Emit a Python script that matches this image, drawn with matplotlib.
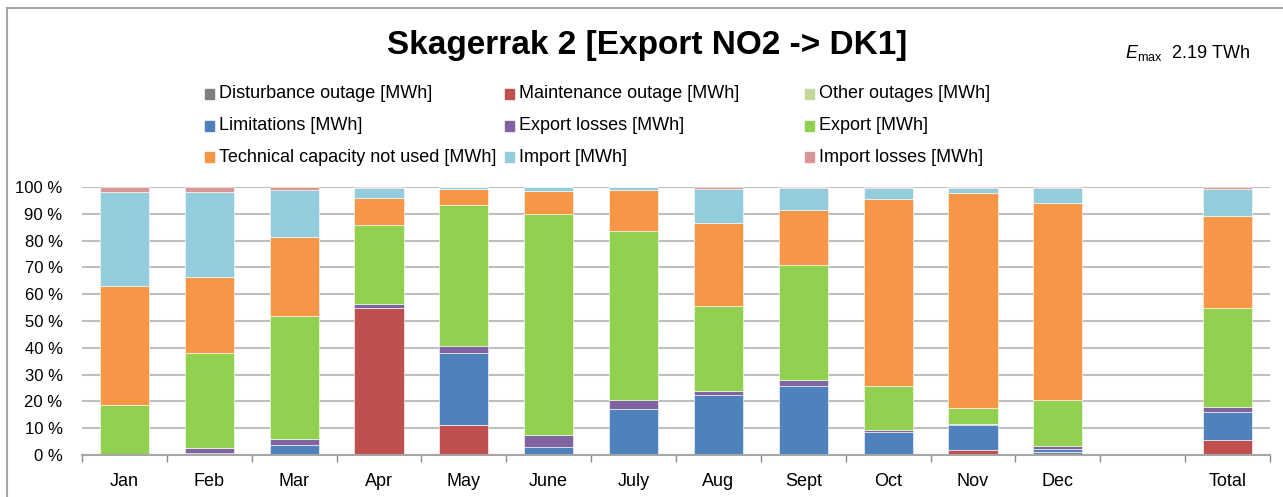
import numpy as np
import matplotlib.pyplot as plt
from matplotlib.patches import Rectangle
from matplotlib.lines import Line2D

plt.rcParams['font.family'] = ['Liberation Sans', 'DejaVu Sans']
plt.rcParams['mathtext.fontset'] = 'custom'
plt.rcParams['mathtext.rm'] = 'Liberation Sans'
plt.rcParams['mathtext.it'] = 'Liberation Sans:italic'

# Data (share of Emax, %)
categories = ['Jan', 'Feb', 'Mar', 'Apr', 'May', 'June', 'July', 'Aug', 'Sept',
              'Oct', 'Nov', 'Dec', '', 'Total']
disturbance = [0, 0, 0, 0, 0, 0, 0, 0, 0, 0, 0, 1.0, 0, 0]
maintenance = [0, 0, 0, 55.0, 11.1, 0, 0, 0, 0, 0, 1.75, 0, 0, 5.6]
other_outages = [0, 0, 0, 0, 0, 0, 0, 0, 0, 0, 0, 0, 0, 0]
limitations = [0, 0.8, 3.6, 0, 27.0, 3.0, 17.1, 22.5, 25.9, 8.5, 9.35, 1.1, 0, 10.4]
export_losses = [0.5, 1.7, 2.5, 1.4, 2.65, 4.6, 3.3, 1.5, 2.1, 1.0, 0.4, 1.15, 0, 1.75]
export = [18.1, 35.6, 45.9, 29.5, 52.65, 82.3, 63.2, 31.75, 42.75, 16.1, 5.9, 17.25, 0, 37.15]
tech_not_used = [44.4, 28.4, 29.25, 9.85, 5.85, 8.6, 15.3, 30.75, 20.65, 70.0, 80.2, 73.6, 0, 34.1]
import_ = [35.1, 31.6, 17.75, 3.75, 0.75, 1.5, 1.1, 12.9, 8.2, 3.9, 2.0, 5.5, 0, 10.25]
import_losses = [1.9, 1.9, 1.0, 0.5, 0, 0, 0, 0.6, 0.4, 0.5, 0.4, 0.4, 0, 0.75]

series = [
    ('Disturbance outage [MWh]', disturbance, '#7f7f7f'),
    ('Maintenance outage [MWh]', maintenance, '#c0504d'),
    ('Other outages [MWh]', other_outages, '#c3d69b'),
    ('Limitations [MWh]', limitations, '#4f81bd'),
    ('Export losses [MWh]', export_losses, '#8064a2'),
    ('Export [MWh]', export, '#92d050'),
    ('Technical capacity not used [MWh]', tech_not_used, '#f79646'),
    ('Import [MWh]', import_, '#93cddd'),
    ('Import losses [MWh]', import_losses, '#da9694'),
]

fig = plt.figure(figsize=(12.83, 4.97), dpi=100)
ax = fig.add_axes([82 / 1283, 42 / 497, 1188 / 1283, 268 / 497])

x = np.arange(len(categories))
bottom = np.zeros(len(categories))
for name, vals, col in series:
    vals = np.array(vals, dtype=float)
    ax.bar(x, vals, width=0.58, bottom=bottom, color=col,
           edgecolor='white', linewidth=0.4, zorder=3)
    bottom += vals

ax.set_xlim(-0.5, len(categories) - 0.5)
ax.set_ylim(0, 100)
ax.set_yticks(np.arange(0, 101, 10))
ax.set_yticklabels([f'{v} %' for v in range(0, 101, 10)], fontsize=12)
ax.set_xticks(x)
ax.set_xticklabels(categories, fontsize=13)
ax.set_xticks(np.arange(-0.5, len(categories)), minor=True)
ax.tick_params(axis='x', which='major', length=0, pad=13)
ax.tick_params(axis='x', which='minor', length=5, color='#8c8c8c', width=1)
ax.tick_params(axis='y', length=0, pad=14)
ax.grid(axis='y', color='#bfbfbf', linewidth=1.5, zorder=0)
for s in ['top', 'right', 'left']:
    ax.spines[s].set_visible(False)
ax.spines['bottom'].set_color('#a6a6a6')
ax.spines['bottom'].set_linewidth(1.5)
ax.spines['bottom'].set_zorder(4)

# Title and Emax
fig.text(647 / 1283, 1 - 46 / 497, 'Skagerrak 2 [Export NO2 -> DK1]',
         ha='center', va='center', fontsize=24, fontweight='bold')
fig.text(1250 / 1283, 1 - 53 / 497, r'$\mathit{E}_{\mathrm{max}}$  2.19 TWh',
         ha='right', va='center', fontsize=13)

# Legend, three columns like Excel
col_x = [205, 505, 805]
row_y = [94, 126, 157]
for i, (name, vals, col) in enumerate(series):
    cx = col_x[i % 3]
    cy = row_y[i // 3]
    fig.patches.append(Rectangle((cx / 1283, 1 - (cy + 5) / 497), 9 / 1283, 10 / 497,
                                 transform=fig.transFigure, color=col))
    fig.text((cx + 14) / 1283, 1 - cy / 497, name, ha='left', va='center', fontsize=13)

# Chart frame (top/left visible)
fig.lines.append(Line2D([7 / 1283, 7 / 1283], [0, 1 - 8 / 497], transform=fig.transFigure,
                        color='#a6a6a6', linewidth=1.5))
fig.lines.append(Line2D([7 / 1283, 1], [1 - 8 / 497, 1 - 8 / 497], transform=fig.transFigure,
                        color='#a6a6a6', linewidth=1.5))

fig.savefig('out.png', dpi=100)
